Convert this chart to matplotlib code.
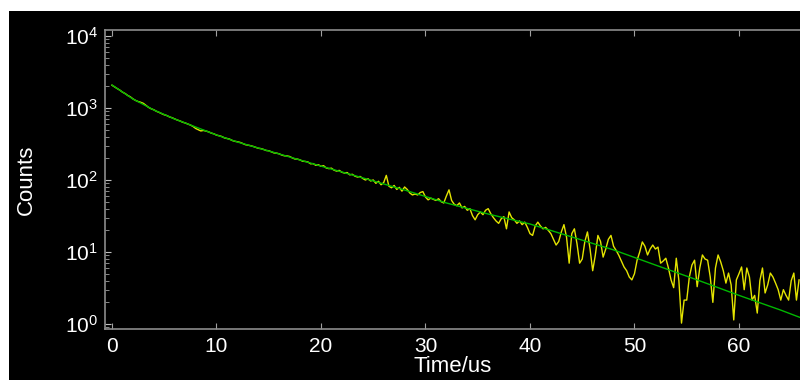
import numpy as np
import matplotlib
matplotlib.use('Agg')
import matplotlib.pyplot as plt
from matplotlib.patches import Rectangle

plt.rcParams['font.family'] = ['Liberation Sans', 'DejaVu Sans']
plt.rcParams['mathtext.default'] = 'regular'

# measured decay (counts), one sample every 0.25 us
time_step = 0.25
counts = [
    2070, 1960, 1860, 1770, 1660, 1590, 1495, 1430, 1340, 1275, 1230, 1200, 1160, 1090, 1020, 975, 945, 900, 870, 835,
    805, 785, 752, 732, 705, 680, 662, 636, 620, 600, 580, 555, 520, 500, 480, 488, 478, 466, 448, 438,
    420, 412, 402, 385, 378, 370, 354, 345, 340, 333, 322, 310, 305, 300, 293, 284, 276, 273, 266, 257,
    255, 246, 238, 236, 231, 222, 217, 216, 212, 203, 196, 195, 190, 182, 181, 178, 168, 169, 160, 163,
    155, 158, 147, 144, 146, 137, 133, 136, 128, 125, 127, 118, 120, 113, 110, 112, 105, 100, 104, 97,
    100, 90, 96, 86, 92, 116, 82, 78, 84, 74, 79, 70,
    80, 74, 66, 62, 64, 62, 67, 69, 58, 53, 56, 54, 52, 55, 50, 48,
    60, 73, 52, 46, 44, 48, 41, 43, 38, 40, 32, 28, 33, 36, 33, 38, 40, 34, 30, 27, 25, 29, 31, 21, 36, 30, 28, 25, 27, 24, 26, 22,
    18, 17, 23, 26, 23, 21, 22, 20, 18, 15, 12.5, 14, 19, 24, 16, 7, 18, 21, 13, 7, 8, 14, 19, 11, 5.5, 9, 17, 14, 8.5, 11, 15, 17,
    12, 10.5, 9, 7.5, 6.2, 5.5, 4.5, 4.1, 5, 7.7, 10, 13.8, 12, 9.1, 11, 12.5, 11, 11.7, 7, 7.5,
    8.2, 6, 4.1, 3.2, 8.2, 4, 1.03, 2.15, 2.15, 4.5, 6.6, 7.7, 3.3, 6, 9.1, 8, 7.7, 4.5, 2.0, 6,
    9.1, 7.3, 5.5, 3.7, 5.1, 3.5, 1.14, 4.1, 5, 6.2, 3, 6.0, 4.5, 2.15, 2.5, 1.42, 4, 6.0, 2.7, 3.5,
    5.1, 4.5, 3.7, 3, 2.15, 3.0, 2.5, 2.15, 4, 5.1, 2.15, 4.1,
]
time = np.arange(len(counts)) * time_step

# fitted curve
fit_time = [0, 1, 2, 3, 4, 5, 6, 7, 8, 9, 10, 12, 14, 16, 20, 24, 28, 32, 36, 40, 44, 48, 52, 56, 60, 64, 66]
fit_counts = [2085, 1670, 1334, 1120, 938, 812, 703, 620, 545, 480, 422, 337, 278, 230, 156, 107, 72.6,
              48, 33.7, 24.5, 16.2, 10.7, 6.6, 4.1, 2.5, 1.56, 1.21]

x_ticks = [0, 10, 20, 30, 40, 50, 60]

fig = plt.figure(figsize=(8, 3.8), dpi=100, facecolor='white')
fig.patches.append(Rectangle((9 / 800, 0), 1 - 9 / 800, 369 / 380, transform=fig.transFigure,
                             facecolor='black', edgecolor='none', zorder=-10))
ax = fig.add_axes([105 / 800, 51 / 380, 695 / 800, 299 / 380])
ax.set_facecolor('black')

ax.plot(time, counts, color='#e4e400', lw=1.0)
ax.plot(fit_time, fit_counts, color='#00b800', lw=1.0)

ax.set_yscale('log')
ax.set_xlim(-0.67, 65.84)
ax.set_ylim(0.853, 12110)
ax.set_xticks(x_ticks)

for side in ['left', 'bottom', 'top']:
    ax.spines[side].set_color('#8c8c8c')
    ax.spines[side].set_linewidth(1.2)
ax.spines['right'].set_visible(False)

ax.tick_params(axis='x', which='both', direction='in', top=True, length=4, color='#a0a0a0',
               labelcolor='white', labelsize=15, pad=6)
ax.tick_params(axis='x', which='minor', bottom=False, top=False)
ax.tick_params(axis='y', which='major', direction='in', length=4, color='#c0c0c0',
               labelcolor='white', labelsize=15, pad=5)
ax.tick_params(axis='y', which='minor', direction='in', length=3, color='#a0a0a0')
ax.tick_params(axis='y', right=False)

ax.set_xlabel('Time/us', color='white', fontsize=16, labelpad=0)
ax.set_ylabel('Counts', color='white', fontsize=16)
ax.yaxis.set_label_coords(-0.098, 0.5)

fig.savefig('out.png', dpi=100, facecolor='white')
